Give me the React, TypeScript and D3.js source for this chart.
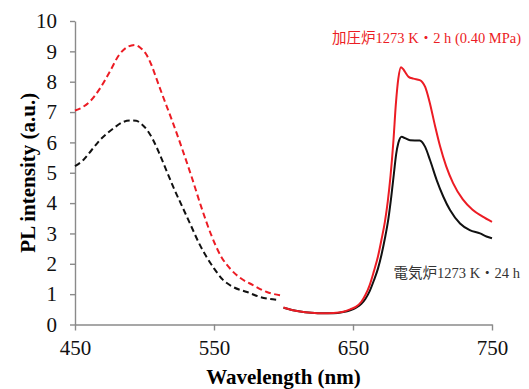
import * as d3 from 'd3';
import { useEffect, useRef } from 'react';

// [wavelength nm, PL intensity]
const pressDashed: [number, number][] = [
    [450, 7.05], [455, 7.15], [461, 7.36], [468, 7.78], [475, 8.33], [482, 8.9], [488, 9.15],
    [493, 9.21], [497, 9.12], [501, 8.92], [505, 8.55], [509, 8.05], [513, 7.55], [520, 6.7],
    [527, 5.8], [534, 4.85], [541, 3.85], [548, 2.95], [555, 2.25], [562, 1.82], [569, 1.53],
    [578, 1.3], [588, 1.07], [600, 0.95],
];

const electricDashed: [number, number][] = [
    [450, 5.22], [456, 5.42], [462, 5.75], [468, 6.08], [477.6, 6.46], [485, 6.68], [490, 6.72],
    [494, 6.71], [498, 6.6], [502, 6.4], [506, 6.1], [511, 5.6], [516, 5.05], [521, 4.5],
    [527, 3.9], [533, 3.3], [539, 2.7], [545, 2.2], [550, 1.85], [556.5, 1.47], [563.6, 1.24],
    [573.7, 1.07], [583, 0.91], [596, 0.81],
];

const pressSolid: [number, number][] = [
    [600, 0.56], [606, 0.48], [612, 0.43], [620, 0.39], [628, 0.37], [636, 0.38], [643, 0.42],
    [648, 0.5], [652, 0.58], [656, 0.75], [659, 0.98], [662, 1.3], [665, 1.75], [668, 2.25],
    [670.5, 2.8], [673, 3.4], [675, 4.05], [677, 4.9], [679, 6.0], [680.9, 7.3], [682.6, 8.1],
    [684.5, 8.48], [686, 8.42], [687.5, 8.32], [690, 8.16], [693.4, 8.1], [698, 8.05], [700, 7.98],
    [702, 7.82], [705, 7.35], [709, 6.55], [712.6, 5.88], [717, 5.22], [722, 4.66], [729, 4.12],
    [736, 3.78], [743, 3.56], [750, 3.38],
];

const electricSolid: [number, number][] = [
    [600, 0.55], [606, 0.48], [612, 0.43], [620, 0.39], [628, 0.37], [636, 0.37], [643, 0.41],
    [648, 0.47], [652, 0.55], [656, 0.68], [659, 0.85], [662, 1.1], [665, 1.45], [668, 1.85],
    [670.5, 2.3], [673, 2.85], [675.5, 3.5], [677.5, 4.2], [679.5, 5.0], [681, 5.6], [682.6, 5.98],
    [685, 6.19], [687.4, 6.14], [691, 6.07], [698, 6.06], [701.8, 5.86], [705.4, 5.42],
    [710.2, 4.76], [715, 4.21], [719.8, 3.77], [727, 3.33], [734, 3.11], [741.4, 3.0],
    [746, 2.9], [750, 2.84],
];

const xTicks = [450, 550, 650, 750];
const yTicks = [0, 1, 2, 3, 4, 5, 6, 7, 8, 9, 10];

const pressLabel = '加圧炉1273 K・2 h (0.40 MPa)';
const electricLabel = '電気炉1273 K・24 h';

const RED = '#ec1c24';
const FONT = '"Liberation Serif", "Times New Roman", "Noto Sans CJK JP", serif';

export default function App() {
    const ref = useRef<SVGSVGElement | null>(null);

    useEffect(() => {
        const svg = d3.select(ref.current);
        svg.selectAll('*').remove();

        const width = 529;
        const height = 389;
        const margin = { top: 21, right: 37, bottom: 64.5, left: 75 };

        const x = d3.scaleLinear().domain([450, 750]).range([margin.left, width - margin.right]);
        const y = d3.scaleLinear().domain([0, 10]).range([height - margin.bottom, margin.top]);

        svg.attr('width', width).attr('height', height);

        const xAxis = svg.append('g')
            .attr('transform', `translate(0,${y(0)})`)
            .call(d3.axisBottom(x).tickValues(xTicks).tickSize(6).tickSizeOuter(0).tickPadding(10));
        xAxis.select('.domain').attr('stroke', '#8a8a8a').attr('stroke-width', 1.4);
        xAxis.selectAll('.tick line').attr('stroke', '#8a8a8a').attr('stroke-width', 1.4);
        xAxis.selectAll('text')
            .attr('font-family', FONT)
            .attr('font-size', 21)
            .attr('fill', '#111');

        const yAxis = svg.append('g')
            .attr('transform', `translate(${margin.left},0)`)
            .call(d3.axisLeft(y).tickValues(yTicks).tickSize(5).tickSizeOuter(0).tickPadding(13));
        yAxis.select('.domain').attr('stroke', '#8a8a8a').attr('stroke-width', 1.4);
        yAxis.selectAll('.tick line').attr('stroke', '#8a8a8a').attr('stroke-width', 1.4);
        yAxis.selectAll('text')
            .attr('font-family', FONT)
            .attr('font-size', 21)
            .attr('fill', '#111');

        const line = d3.line<[number, number]>()
            .x(d => x(d[0]))
            .y(d => y(d[1]))
            .curve(d3.curveMonotoneX);

        const series = [
            { data: electricDashed, color: '#111', dash: '6,3.5' },
            { data: pressDashed, color: RED, dash: '6,3.5' },
            { data: electricSolid, color: '#111', dash: null },
            { data: pressSolid, color: RED, dash: null },
        ];

        series.forEach(s => {
            svg.append('path')
                .datum(s.data)
                .attr('d', line)
                .attr('fill', 'none')
                .attr('stroke', s.color)
                .attr('stroke-width', 2)
                .attr('stroke-dasharray', s.dash);
        });

        svg.append('text')
            .attr('x', (x(450) + x(750)) / 2)
            .attr('y', 383.5)
            .attr('text-anchor', 'middle')
            .attr('font-family', FONT)
            .attr('font-weight', 'bold')
            .attr('font-size', 21)
            .text('Wavelength (nm)');

        svg.append('text')
            .attr('transform', `translate(35,${(y(0) + y(10)) / 2}) rotate(-90)`)
            .attr('text-anchor', 'middle')
            .attr('font-family', FONT)
            .attr('font-weight', 'bold')
            .attr('font-size', 21)
            .text('PL intensity (a.u.)');

        svg.append('text')
            .attr('x', 521)
            .attr('y', 43)
            .attr('text-anchor', 'end')
            .attr('font-family', FONT)
            .attr('font-size', 14.5)
            .attr('fill', RED)
            .text(pressLabel);

        svg.append('text')
            .attr('x', 520)
            .attr('y', 278)
            .attr('text-anchor', 'end')
            .attr('font-family', FONT)
            .attr('font-size', 14.5)
            .attr('fill', '#333')
            .text(electricLabel);
    }, []);

    return <svg ref={ref} style={{ position: 'absolute', left: 0, top: 0, background: '#fff' }}></svg>;
}
